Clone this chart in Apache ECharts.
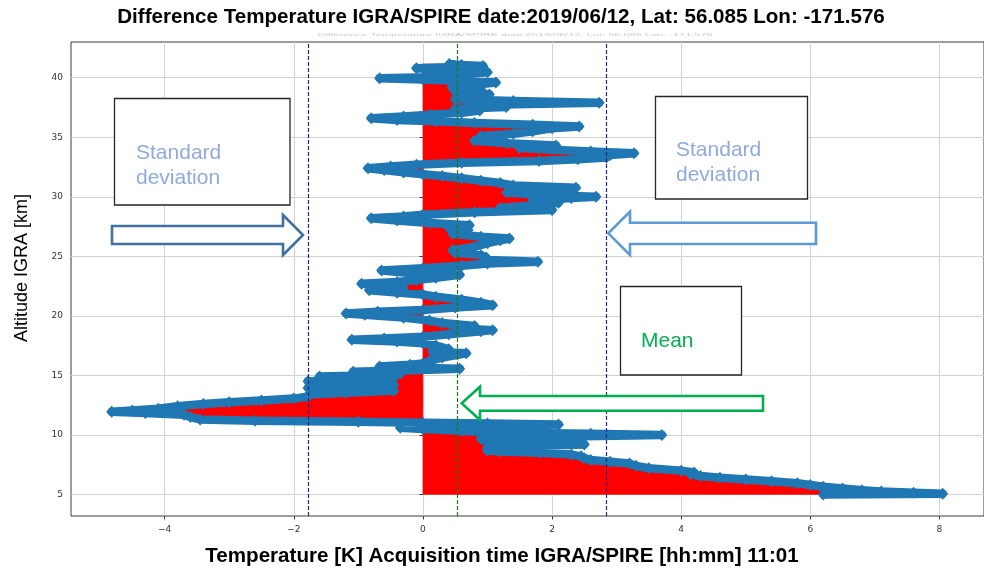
<!DOCTYPE html>
<html>
<head>
<meta charset="utf-8">
<script src="https://cdn.jsdelivr.net/npm/echarts@6/dist/echarts.min.js"></script>
<style>
  html, body { margin: 0; padding: 0; background: #ffffff; }
  #chart { width: 984px; height: 577px; }
</style>
</head>
<body>
<div id="chart"></div>
<script>
// Temperature difference profile IGRA - SPIRE (K) versus IGRA altitude (km)
const altitudeKm = [
  // 5 - 11 km
  5.00, 5.05, 5.15, 5.25, 5.35, 5.50, 5.65, 5.80, 5.95, 6.10,
  6.25, 6.40, 6.55, 6.70, 6.85, 7.00, 7.20, 7.40, 7.60, 7.75,
  7.90, 8.05, 8.20, 8.35, 8.50, 8.60, 8.70, 8.90, 9.05, 9.20,
  9.30, 9.45, 9.65, 9.85, 10.00, 10.10, 10.20, 10.35, 10.50, 10.60,
  10.70, 10.80, 10.88, 10.95, 11.02,
  // 11 - 16 km
  11.10, 11.20, 11.30, 11.50, 11.70, 11.85, 11.94, 12.05, 12.20, 12.40,
  12.60, 12.75, 12.90, 13.05, 13.20, 13.40, 13.55, 13.70, 13.85, 13.95,
  14.05, 14.20, 14.35, 14.50, 14.60, 14.75, 14.90, 15.00, 15.15, 15.30,
  15.42, 15.55, 15.65, 15.75, 15.90, 16.00,
  // 16 - 28.5 km
  16.20, 16.50, 16.85, 17.00, 17.20, 17.50, 17.70, 17.85, 18.00, 18.10,
  18.25, 18.45, 18.70, 18.80, 18.95, 19.15, 19.40, 19.60, 19.85, 20.10,
  20.20, 20.35, 20.50, 20.70, 20.90, 21.10, 21.35, 21.60, 21.80, 21.95,
  22.15, 22.30, 22.50, 22.70, 22.85, 23.00, 23.20, 23.45, 23.60, 23.80,
  24.00, 24.20, 24.40, 24.55, 24.70, 24.90, 25.10, 25.30, 25.50, 25.80,
  26.10, 26.35, 26.50, 26.65, 26.90, 27.20, 27.40, 27.60, 27.80, 28.00,
  28.20, 28.35, 28.50,
  // 28.5 - 41.2 km
  28.70, 28.90, 29.05, 29.30, 29.50, 29.70, 29.90, 30.00, 30.15, 30.35,
  30.55, 30.75, 30.95, 31.15, 31.35, 31.55, 31.75, 31.90, 32.05, 32.25,
  32.40, 32.55, 32.70, 32.85, 33.00, 33.15, 33.30, 33.50, 33.65, 33.80,
  33.95, 34.10, 34.30, 34.50, 34.70, 34.90, 35.10, 35.30, 35.50, 35.75,
  35.90, 36.05, 36.20, 36.35, 36.45, 36.60, 36.75, 36.90, 37.05, 37.25,
  37.40, 37.55, 37.75, 37.90, 38.05, 38.20, 38.40, 38.60, 38.80, 39.00,
  39.20, 39.40, 39.60, 39.75, 39.85, 39.95, 40.05, 40.25, 40.45, 40.65,
  40.80, 40.90, 40.98, 41.06, 41.15
];
const tempDiffK = [
  // 5 - 11 km
  6.20, 8.05, 7.60, 7.10, 6.80, 6.50, 6.20, 6.00, 5.80, 5.40,
  5.00, 4.60, 4.30, 4.15, 4.20, 4.00, 3.50, 3.30, 3.20, 2.90,
  2.60, 2.50, 2.45, 2.30, 1.80, 1.20, 1.00, 1.00, 1.60, 2.50,
  1.50, 1.00, 0.90, 2.00, 3.70, 2.60, 1.00, 0.60, 0.00, -0.35,
  0.20, 1.20, 2.10, 1.00, 0.00,
  // 11 - 16 km
  -1.00, -2.60, -3.45, -3.60, -3.70, -4.30, -4.82, -4.50, -4.10, -3.80,
  -3.40, -3.00, -2.50, -2.00, -1.80, -1.75, -1.20, -0.45, -0.90, -1.78,
  -1.20, -0.45, -1.00, -1.78, -1.30, -0.45, -1.60, -0.90, -0.35, -1.08,
  -0.30, 0.57, -0.10, -0.67, -0.20, 0.00,
  // 16 - 28.5 km
  0.10, 0.30, 0.67, 0.15, 0.40, 0.20, 0.00, -0.40, -1.10, -0.60,
  0.00, 0.40, 0.90, 1.08, 0.50, 0.80, 0.30, 0.10, -0.30, -0.90,
  -1.19, -0.70, 0.00, 0.50, 1.08, 0.90, 0.60, 0.20, 0.00, -0.40,
  -0.83, -0.30, -0.50, -0.95, -0.40, -0.10, 0.20, 0.57, -0.20, -0.64,
  0.00, 0.60, 1.00, 1.78, 1.00, 0.98, 0.90, 0.50, 0.46, 0.80,
  1.00, 1.20, 1.34, 0.90, 0.46, 0.70, 0.40, 0.72, 0.10, -0.40,
  -0.80, -0.30, 0.00,
  // 28.5 - 41.2 km
  0.80, 2.00, 1.20, 1.70, 2.10, 1.70, 2.30, 2.68, 1.80, 1.30,
  2.00, 2.37, 1.40, 1.20, 0.90, 0.60, 0.30, 0.00, -0.30, -0.60,
  -0.85, -0.50, -0.10, 0.60, 1.80, 2.40, 2.84, 2.90, 3.27, 2.60,
  2.00, 1.50, 2.06, 1.30, 0.80, 1.20, 0.90, 1.40, 1.70, 2.00,
  2.42, 1.70, 0.80, 0.20, -0.40, -0.80, -0.30, 0.10, 0.60, 0.88,
  0.50, 1.29, 1.20, 2.73, 1.40, 0.50, 0.60, 1.03, 0.50, 0.90,
  0.45, 0.80, 1.13, 0.50, 0.00, -0.67, 0.10, 0.60, 1.00, 0.30,
  -0.10, 0.50, 0.93, 0.60, 0.41
];

// Summary statistics of the difference profile
const meanDiff = 0.53;
const stdDiff = 2.31;

// Axis ticks
const xTickValues = [-4, -2, 0, 2, 4, 6, 8];
const yTickValues = [5, 10, 15, 20, 25, 30, 35, 40];

const titleText = 'Difference Temperature IGRA/SPIRE date:2019/06/12, Lat: 56.085 Lon: -171.576';
const xAxisTitle = 'Temperature [K] Acquisition time IGRA/SPIRE [hh:mm] 11:01';
const yAxisTitle = 'Altitude IGRA [km]';

const profilePoints = altitudeKm.map((a, i) => [tempDiffK[i], a]);

const chart = echarts.init(document.getElementById('chart'), null, { renderer: 'canvas' });

const sans = '"Liberation Sans", Arial, sans-serif';
const tickFont = '"DejaVu Sans", sans-serif';

// Outlined block arrow as a polygon (callout shapes)
function blockArrow(points, color) {
  return {
    type: 'polygon',
    shape: { points: points },
    style: { fill: '#ffffff', stroke: color, lineWidth: 2.6, lineJoin: 'miter' },
    z: 100
  };
}
function calloutBox(x, y, w, h) {
  return {
    type: 'rect',
    shape: { x: x, y: y, width: w, height: h },
    style: { fill: '#ffffff', stroke: '#262626', lineWidth: 1.3 },
    z: 100
  };
}
function calloutText(x, y, text, color) {
  return {
    type: 'text', x: x, y: y, z: 101,
    style: { text: text, fill: color, font: '21px ' + sans, textAlign: 'left', textVerticalAlign: 'middle' }
  };
}

const option = {
  animation: false,
  backgroundColor: '#ffffff',
  grid: {
    left: 71, top: 42, right: -1, bottom: 61,
    show: true, borderColor: '#3a3a3a', borderWidth: 1, backgroundColor: 'transparent',
    containLabel: false
  },
  xAxis: {
    type: 'value', min: -5.45, max: 8.69,
    axisLine: { show: false },
    axisTick: { show: true, customValues: xTickValues, length: 3.5, lineStyle: { color: '#3a3a3a', width: 1 } },
    axisLabel: {
      customValues: xTickValues, fontSize: 9, color: '#333333', fontFamily: tickFont, margin: 9,
      formatter: v => String(v).replace('-', '\u2212')
    },
    splitLine: { show: true, lineStyle: { color: '#d2d2d2', width: 1 } }
  },
  yAxis: {
    type: 'value', min: 3.19, max: 43.0,
    axisLine: { show: false },
    axisTick: { show: true, customValues: yTickValues, length: 3.5, lineStyle: { color: '#3a3a3a', width: 1 } },
    axisLabel: { customValues: yTickValues, fontSize: 9, color: '#333333', fontFamily: tickFont, margin: 8 },
    splitLine: { show: true, lineStyle: { color: '#d2d2d2', width: 1 } }
  },
  series: [
    {
      // Area between zero and the difference profile
      type: 'custom',
      coordinateSystem: 'cartesian2d',
      silent: true,
      z: 1,
      data: [[0, altitudeKm[0]]],
      renderItem: function (params, api) {
        const last = altitudeKm.length - 1;
        const pts = [api.coord([0, altitudeKm[0]])];
        for (let i = 0; i <= last; i++) pts.push(api.coord([tempDiffK[i], altitudeKm[i]]));
        pts.push(api.coord([0, altitudeKm[last]]));
        return { type: 'polygon', shape: { points: pts }, style: { fill: '#ff0000', stroke: '#ff0000', lineWidth: 0.5 } };
      }
    },
    {
      type: 'line',
      data: profilePoints,
      z: 2,
      silent: true,
      symbol: 'diamond',
      symbolSize: [11, 12],
      showSymbol: true,
      itemStyle: { color: '#1f77b4', borderWidth: 0 },
      lineStyle: { color: '#1f77b4', width: 8.5, join: 'round', cap: 'round' },
      markLine: {
        silent: true,
        symbol: ['none', 'none'],
        label: { show: false },
        data: [
          { xAxis: meanDiff - stdDiff, lineStyle: { color: '#26268a', type: [4, 2], width: 1.2 } },
          { xAxis: meanDiff + stdDiff, lineStyle: { color: '#26268a', type: [4, 2], width: 1.2 } },
          { xAxis: meanDiff, lineStyle: { color: '#1a7a1a', type: [4, 2], width: 1.2 } }
        ]
      }
    }
  ],
  graphic: [
    // titles
    {
      type: 'text', x: 501, y: 17, z: 50,
      style: { text: titleText, fill: '#000000', font: 'bold 20.6px ' + sans, textAlign: 'center', textVerticalAlign: 'middle' }
    },
    {
      type: 'text', x: 515, y: 35, z: 50, scaleY: 0.4,
      style: { text: titleText, fill: '#c9c9c9', font: '11px ' + sans, textAlign: 'center', textVerticalAlign: 'middle' }
    },
    {
      type: 'text', x: 502, y: 556, z: 50,
      style: { text: xAxisTitle, fill: '#000000', font: 'bold 20.6px ' + sans, textAlign: 'center', textVerticalAlign: 'middle' }
    },
    {
      type: 'text', x: 22, y: 268, z: 50, rotation: Math.PI / 2,
      style: { text: yAxisTitle, fill: '#000000', font: '18px ' + sans, textAlign: 'center', textVerticalAlign: 'middle' }
    },
    // callouts
    calloutBox(114.5, 98.5, 175.5, 106.5),
    calloutText(136, 153, 'Standard', '#8faadc'),
    calloutText(136, 178, 'deviation', '#8faadc'),
    blockArrow([[112, 226], [283, 226], [283, 215], [303, 235], [283, 255], [283, 244], [112, 244]], '#41719c'),

    calloutBox(655.5, 96.5, 152, 102.5),
    calloutText(676, 150.5, 'Standard', '#8faadc'),
    calloutText(676, 175, 'deviation', '#8faadc'),
    blockArrow([[816, 222.7], [630, 222.7], [630, 211.7], [608.3, 233.3], [630, 255], [630, 244], [816, 244]], '#5b9bd5'),

    calloutBox(620.5, 286.5, 121, 88.5),
    calloutText(641, 341, 'Mean', '#00b050'),
    blockArrow([[763, 396], [480, 396], [480, 386.7], [461.7, 403.3], [480, 420], [480, 410.7], [763, 410.7]], '#00b050')
  ]
};

chart.setOption(option);
</script>
</body>
</html>
